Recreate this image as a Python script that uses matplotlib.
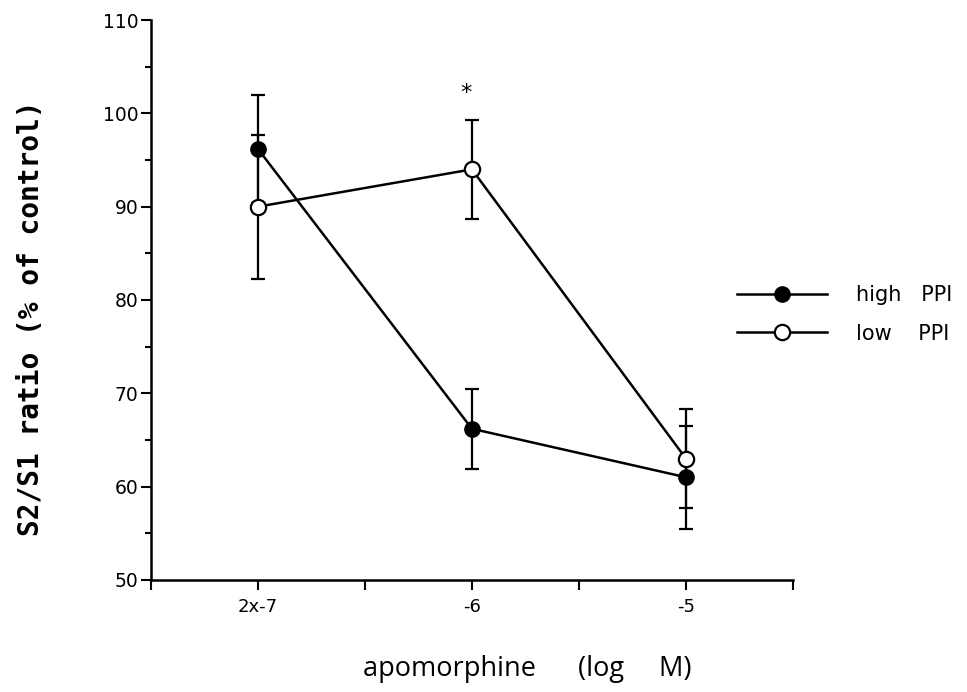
import matplotlib.pyplot as plt
import numpy as np
from matplotlib.ticker import MultipleLocator
from matplotlib.lines import Line2D

# positions on the x axis (0..6), data at 1, 3, 5
xpos = [1, 3, 5]
xticklabels = ["2x-7", "-6", "-5"]

high_ppi = [96.2, 66.2, 61.0]
high_err = [5.8, 4.3, 5.5]
low_ppi = [90.0, 94.0, 63.0]
low_err = [7.7, 5.3, 5.3]

fig = plt.figure(figsize=(9.67, 6.92), dpi=100)
ax = fig.add_axes([0.156, 0.162, 0.664, 0.809])

ax.errorbar(xpos, high_ppi, yerr=high_err, color="black", lw=1.8, marker="o",
            ms=11, mfc="black", mec="black", capsize=5, capthick=1.6, elinewidth=1.6,
            zorder=3)
ax.errorbar(xpos, low_ppi, yerr=low_err, color="black", lw=1.8, marker="o",
            ms=11, mfc="white", mec="black", mew=1.6, capsize=5, capthick=1.6,
            elinewidth=1.6, zorder=4)

ax.text(2.94, 102.2, "*", ha="center", va="center", fontsize=16)

ax.set_xlim(0, 6)
ax.set_ylim(50, 110)
ax.set_xticks(range(7))
ax.set_xticklabels(["", xticklabels[0], "", xticklabels[1], "", xticklabels[2], ""],
                   family="DejaVu Sans", fontsize=13)
ax.yaxis.set_major_locator(MultipleLocator(10))
ax.yaxis.set_minor_locator(MultipleLocator(5))
for lab in ax.get_yticklabels():
    lab.set_fontsize(13.5)
ax.tick_params(axis="both", which="major", length=7, width=1.5, direction="out")
ax.tick_params(axis="x", which="major", pad=6)
ax.tick_params(axis="y", which="major", pad=2)
ax.tick_params(axis="y", which="minor", length=4, width=1.5)
ax.spines["top"].set_visible(False)
ax.spines["right"].set_visible(False)
ax.spines["left"].set_linewidth(1.8)
ax.spines["bottom"].set_linewidth(1.8)

ax.set_ylabel("S2/S1 ratio (% of control)", family="DejaVu Sans Mono",
              fontweight="bold", fontsize=20)
ax.yaxis.set_label_coords(-0.165, 0.468)
ax.set_xlabel("apomorphine      (log     M)", family="Open Sans", fontsize=19.5)
ax.xaxis.set_label_coords(0.586, -0.135)

handles = [
    Line2D([], [], color="black", lw=1.8, marker="o", ms=11, mfc="black", mec="black"),
    Line2D([], [], color="black", lw=1.8, marker="o", ms=11, mfc="white", mec="black", mew=1.6),
]
ax.legend(handles, ["high   PPI", "low    PPI"], loc="center left",
          bbox_to_anchor=(0.913, 0.474), frameon=False, fontsize=15,
          handlelength=4.3, handletextpad=1.4, labelspacing=0.87,
          borderaxespad=0, borderpad=0)

fig.savefig("out.png", dpi=100)
